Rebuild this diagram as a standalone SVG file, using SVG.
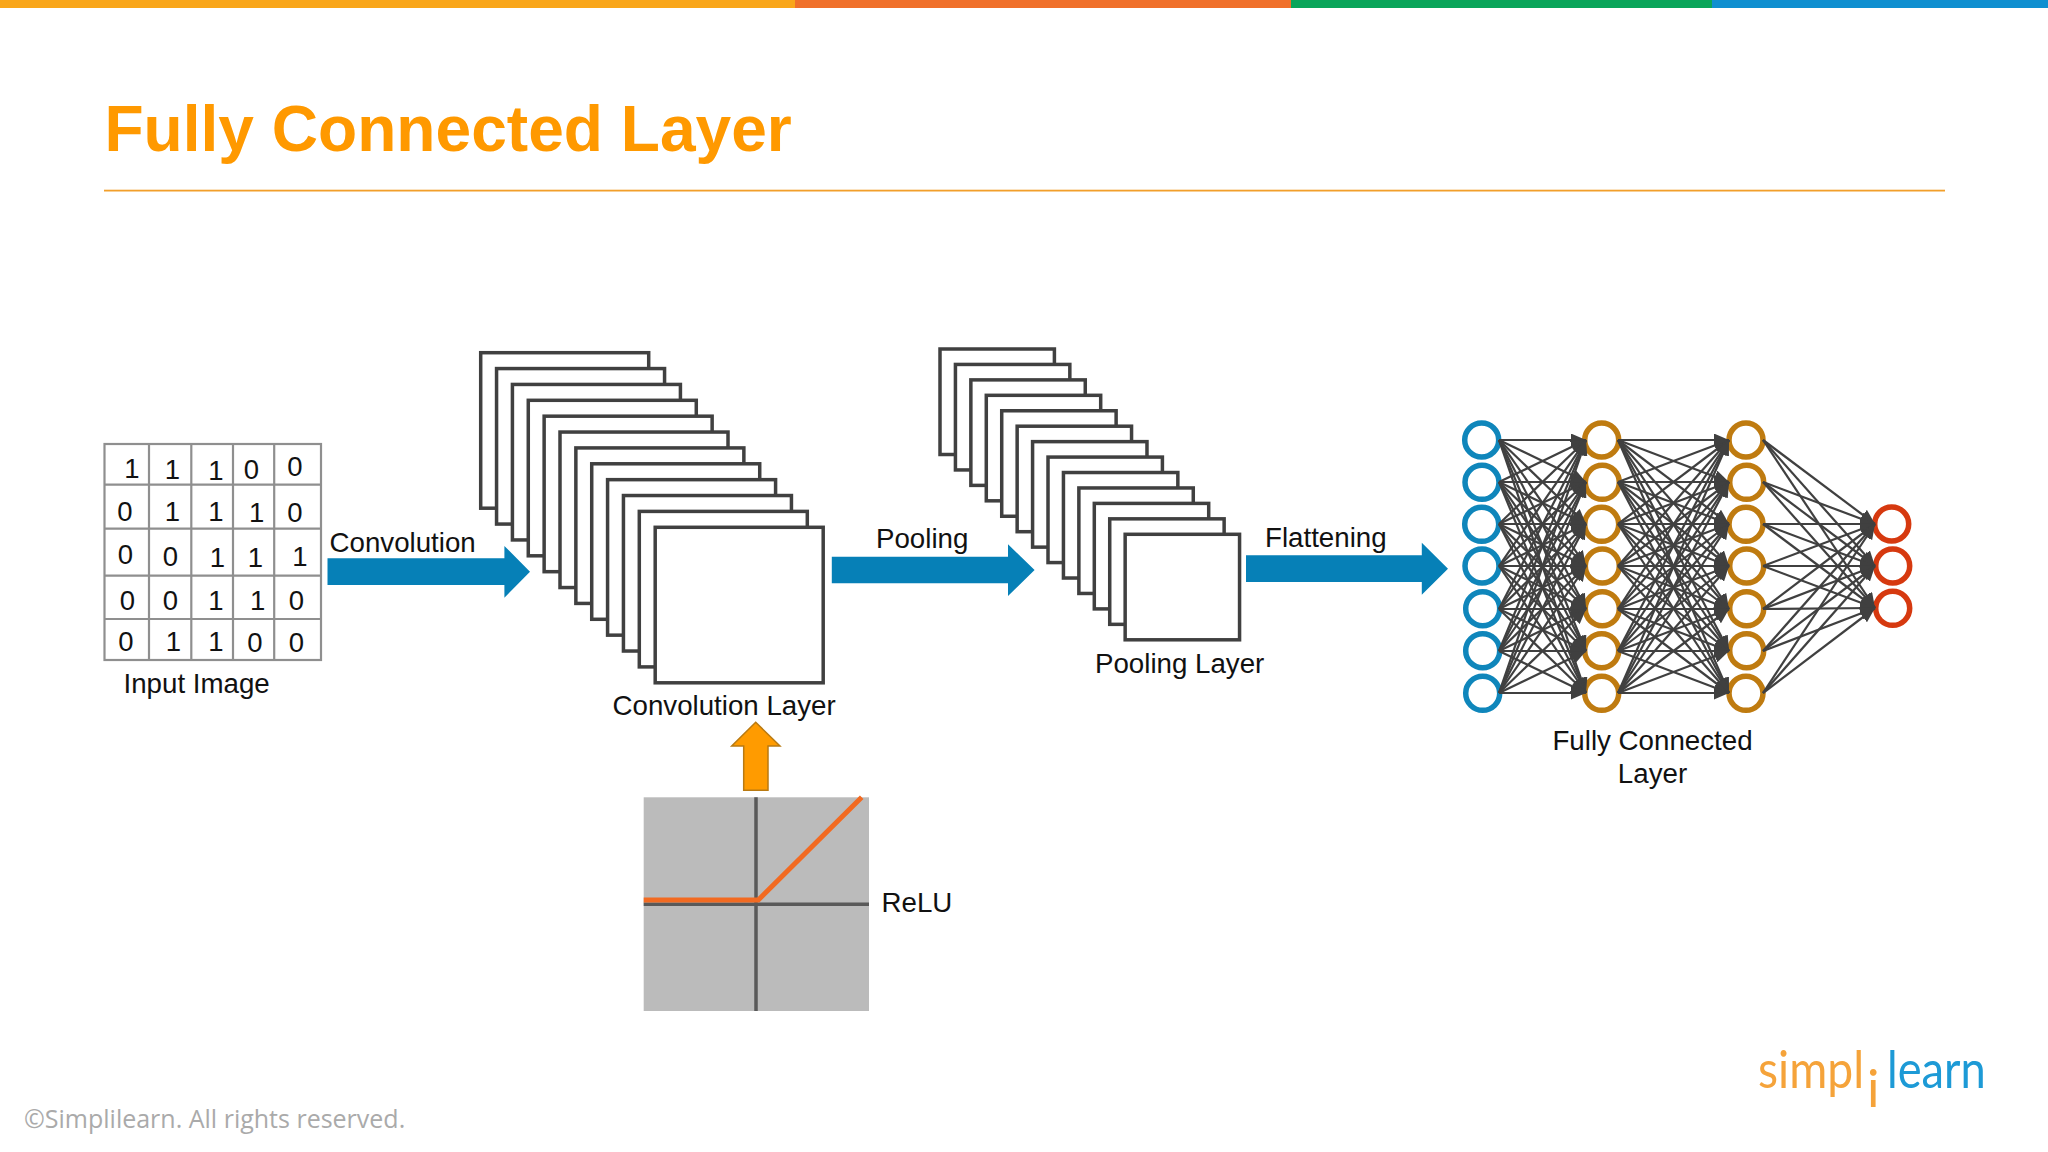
<svg xmlns="http://www.w3.org/2000/svg" width="2048" height="1152" viewBox="0 0 2048 1152">
<defs>
<style>
text{font-family:"Liberation Sans",Arial,sans-serif;fill:#111}
.l{font-size:27.7px}
.d{font-size:27.5px;text-anchor:middle}
.s{fill:#fff;stroke:#404040;stroke-width:3.5}
.a{fill:#0680b7}
.g{stroke:#8f8f8f;stroke-width:2.2;fill:none}
.e line{stroke:#404040;stroke-width:2.2;marker-end:url(#h)}
.n{fill:#fff;stroke-width:5.5}
.b{stroke:#0f86bb}.o{stroke:#bf7b10}.r{stroke:#d6390f}
.logo{font-family:Lato,"Open Sans",sans-serif;font-size:52px}
</style>
<marker id="h" markerUnits="userSpaceOnUse" markerWidth="15" markerHeight="13" refX="15" refY="6.5" orient="auto"><path d="M0,0L15,6.500L0,13z" fill="#404040"/></marker>
</defs>
<rect width="2048" height="1152" fill="#fff"/>
<rect x="0" y="0" width="795" height="8" fill="#f9a61a"/>
<rect x="795" y="0" width="496" height="8" fill="#f0702a"/>
<rect x="1291" y="0" width="421" height="8" fill="#0aa55a"/>
<rect x="1712" y="0" width="336" height="8" fill="#0f8fd0"/>
<text x="104.400" y="151" font-size="64.100" font-weight="700" style="fill:#ff9900">Fully Connected Layer</text>
<rect x="104" y="189.700" width="1841" height="1.800" fill="#f29f2b"/>
<g id="input-image">
<rect class="g" x="104.500" y="444" width="216.500" height="216"/>
<path class="g" d="M149 444V660M191.300 444V660M233 444V660M274.200 444V660M104.500 484.700H321M104.500 528.700H321M104.500 575.700H321M104.500 619H321"/>
<g class="d">
<text class="d" x="132" y="478">1</text><text class="d" x="172.400" y="479">1</text><text class="d" x="216" y="480">1</text><text class="d" x="251.400" y="479">0</text><text class="d" x="295" y="476">0</text>
<text class="d" x="125" y="520.700">0</text><text class="d" x="172.400" y="520.700">1</text><text class="d" x="216" y="520.700">1</text><text class="d" x="256.700" y="521.700">1</text><text class="d" x="295" y="522">0</text>
<text class="d" x="125.400" y="564">0</text><text class="d" x="170.500" y="566.400">0</text><text class="d" x="217.500" y="566.700">1</text><text class="d" x="255.300" y="566.700">1</text><text class="d" x="299.900" y="566">1</text>
<text class="d" x="127.300" y="610">0</text><text class="d" x="170.500" y="610">0</text><text class="d" x="216" y="610.400">1</text><text class="d" x="257.700" y="610">1</text><text class="d" x="296.500" y="610.400">0</text>
<text class="d" x="125.900" y="651">0</text><text class="d" x="173.400" y="651">1</text><text class="d" x="216" y="650.700">1</text><text class="d" x="254.800" y="652.400">0</text><text class="d" x="296.500" y="652.400">0</text>
</g>
<text class="l" x="123.500" y="692.700">Input Image</text>
</g>
<g id="conv-layer">
<rect class="s" x="480.700" y="352.700" width="168" height="155.500"/>
<rect class="s" x="496.560" y="368.570" width="168" height="155.500"/>
<rect class="s" x="512.420" y="384.440" width="168" height="155.500"/>
<rect class="s" x="528.280" y="400.310" width="168" height="155.500"/>
<rect class="s" x="544.140" y="416.180" width="168" height="155.500"/>
<rect class="s" x="560" y="432.050" width="168" height="155.500"/>
<rect class="s" x="575.860" y="447.920" width="168" height="155.500"/>
<rect class="s" x="591.720" y="463.790" width="168" height="155.500"/>
<rect class="s" x="607.580" y="479.660" width="168" height="155.500"/>
<rect class="s" x="623.440" y="495.530" width="168" height="155.500"/>
<rect class="s" x="639.300" y="511.400" width="168" height="155.500"/>
<rect class="s" x="655.200" y="527.300" width="168" height="155.500"/>
<text class="l" x="612.500" y="714.500">Convolution Layer</text>
</g>
<g id="pool-layer">
<rect class="s" x="940" y="349" width="114.400" height="105.500"/>
<rect class="s" x="955.430" y="364.440" width="114.400" height="105.500"/>
<rect class="s" x="970.860" y="379.880" width="114.400" height="105.500"/>
<rect class="s" x="986.290" y="395.320" width="114.400" height="105.500"/>
<rect class="s" x="1001.720" y="410.760" width="114.400" height="105.500"/>
<rect class="s" x="1017.150" y="426.200" width="114.400" height="105.500"/>
<rect class="s" x="1032.580" y="441.640" width="114.400" height="105.500"/>
<rect class="s" x="1048.010" y="457.080" width="114.400" height="105.500"/>
<rect class="s" x="1063.440" y="472.520" width="114.400" height="105.500"/>
<rect class="s" x="1078.870" y="487.960" width="114.400" height="105.500"/>
<rect class="s" x="1094.300" y="503.400" width="114.400" height="105.500"/>
<rect class="s" x="1109.730" y="518.840" width="114.400" height="105.500"/>
<rect class="s" x="1125.160" y="534.300" width="114.400" height="105.500"/>
<text class="l" x="1095" y="672.800">Pooling Layer</text>
</g>
<g id="relu">
<rect x="643.700" y="797.300" width="225.300" height="213.700" fill="#bbb"/>
<path d="M756 797.300V1011M643.700 904.300H869" stroke="#595959" stroke-width="3.500" fill="none"/>
<path d="M643.700 900H758.300L861.700 797.300" stroke="#f26a21" stroke-width="5" fill="none"/>
<text class="l" x="881.500" y="911.500">ReLU</text>
</g>
<g id="arrows">
<path class="a" d="M327.500 558.300H504.400V546L530 571.700L504.400 597.700V585H327.500z"/>
<path class="a" d="M831.800 556.700H1008V544.300L1034.600 570L1008 596V583.300H831.800z"/>
<path class="a" d="M1246 555.300H1421.800V542.700L1448 568.700L1421.800 594.700V582H1246z"/>
<path d="M755.700 722.300L780 746H768V790.300H743.700V746H731.700z" fill="#ff9b00" stroke="#b97a12" stroke-width="1.500"/>
<text class="l" x="329.500" y="551.700">Convolution</text>
<text class="l" x="876" y="548">Pooling</text>
<text class="l" x="1265" y="547">Flattening</text>
</g>
<g id="nodes">
<g id="a1"><circle class="n b" cx="1481.700" cy="440" r="17"/></g>
<g id="a2"><circle class="n b" cx="1482" cy="482.300" r="17"/></g>
<g id="a3"><circle class="n b" cx="1481.700" cy="524.300" r="17"/></g>
<g id="a4"><circle class="n b" cx="1482" cy="566" r="17"/></g>
<g id="a5"><circle class="n b" cx="1482.700" cy="608.700" r="17"/></g>
<g id="a6"><circle class="n b" cx="1482.700" cy="650.700" r="17"/></g>
<g id="a7"><circle class="n b" cx="1482.700" cy="693.300" r="17"/></g>
<g id="b1"><circle class="n o" cx="1601.700" cy="440" r="17"/></g>
<g id="b2"><circle class="n o" cx="1602.300" cy="482.300" r="17"/></g>
<g id="b3"><circle class="n o" cx="1601.700" cy="524.300" r="17"/></g>
<g id="b4"><circle class="n o" cx="1602.300" cy="566" r="17"/></g>
<g id="b5"><circle class="n o" cx="1602.300" cy="608.700" r="17"/></g>
<g id="b6"><circle class="n o" cx="1601.700" cy="650.700" r="17"/></g>
<g id="b7"><circle class="n o" cx="1601.700" cy="693.300" r="17"/></g>
<g id="c1"><circle class="n o" cx="1746" cy="440" r="17"/></g>
<g id="c2"><circle class="n o" cx="1746.700" cy="482.300" r="17"/></g>
<g id="c3"><circle class="n o" cx="1746" cy="524.300" r="17"/></g>
<g id="c4"><circle class="n o" cx="1746.700" cy="566" r="17"/></g>
<g id="c5"><circle class="n o" cx="1746.700" cy="608.700" r="17"/></g>
<g id="c6"><circle class="n o" cx="1746.700" cy="650.700" r="17"/></g>
<g id="c7"><circle class="n o" cx="1746" cy="693.300" r="17"/></g>
<g id="d1"><circle class="n r" cx="1891.700" cy="524" r="17"/></g>
<g id="d2"><circle class="n r" cx="1892.700" cy="566" r="17"/></g>
<g id="d3"><circle class="n r" cx="1892.700" cy="608.300" r="17"/></g>
<text class="l" x="1652.500" y="750" text-anchor="middle">Fully Connected</text>
<text class="l" x="1652.500" y="783" text-anchor="middle">Layer</text>
</g>
<g id="connectors" class="e">
<line x1="1499" y1="440" x2="1586" y2="440"/><line x1="1499" y1="440" x2="1586" y2="482"/><line x1="1499" y1="440" x2="1586" y2="524"/><line x1="1499" y1="440" x2="1586" y2="566"/><line x1="1499" y1="440" x2="1586" y2="609"/><line x1="1499" y1="440" x2="1586" y2="651"/><line x1="1499" y1="440" x2="1586" y2="693"/>
<line x1="1499" y1="482" x2="1586" y2="440"/><line x1="1499" y1="482" x2="1586" y2="482"/><line x1="1499" y1="482" x2="1586" y2="524"/><line x1="1499" y1="482" x2="1586" y2="566"/><line x1="1499" y1="482" x2="1586" y2="609"/><line x1="1499" y1="482" x2="1586" y2="651"/><line x1="1499" y1="482" x2="1586" y2="693"/>
<line x1="1499" y1="524" x2="1586" y2="440"/><line x1="1499" y1="524" x2="1586" y2="482"/><line x1="1499" y1="524" x2="1586" y2="524"/><line x1="1499" y1="524" x2="1586" y2="566"/><line x1="1499" y1="524" x2="1586" y2="609"/><line x1="1499" y1="524" x2="1586" y2="651"/><line x1="1499" y1="524" x2="1586" y2="693"/>
<line x1="1499" y1="566" x2="1586" y2="440"/><line x1="1499" y1="566" x2="1586" y2="482"/><line x1="1499" y1="566" x2="1586" y2="524"/><line x1="1499" y1="566" x2="1586" y2="566"/><line x1="1499" y1="566" x2="1586" y2="609"/><line x1="1499" y1="566" x2="1586" y2="651"/><line x1="1499" y1="566" x2="1586" y2="693"/>
<line x1="1499" y1="609" x2="1586" y2="440"/><line x1="1499" y1="609" x2="1586" y2="482"/><line x1="1499" y1="609" x2="1586" y2="524"/><line x1="1499" y1="609" x2="1586" y2="566"/><line x1="1499" y1="609" x2="1586" y2="609"/><line x1="1499" y1="609" x2="1586" y2="651"/><line x1="1499" y1="609" x2="1586" y2="693"/>
<line x1="1499" y1="651" x2="1586" y2="440"/><line x1="1499" y1="651" x2="1586" y2="482"/><line x1="1499" y1="651" x2="1586" y2="524"/><line x1="1499" y1="651" x2="1586" y2="566"/><line x1="1499" y1="651" x2="1586" y2="609"/><line x1="1499" y1="651" x2="1586" y2="651"/><line x1="1499" y1="651" x2="1586" y2="693"/>
<line x1="1499" y1="693" x2="1586" y2="440"/><line x1="1499" y1="693" x2="1586" y2="482"/><line x1="1499" y1="693" x2="1586" y2="524"/><line x1="1499" y1="693" x2="1586" y2="566"/><line x1="1499" y1="693" x2="1586" y2="609"/><line x1="1499" y1="693" x2="1586" y2="651"/><line x1="1499" y1="693" x2="1586" y2="693"/>
<line x1="1618" y1="440" x2="1729" y2="440"/><line x1="1618" y1="440" x2="1729" y2="482"/><line x1="1618" y1="440" x2="1729" y2="524"/><line x1="1618" y1="440" x2="1729" y2="566"/><line x1="1618" y1="440" x2="1729" y2="609"/><line x1="1618" y1="440" x2="1729" y2="651"/><line x1="1618" y1="440" x2="1729" y2="693"/>
<line x1="1618" y1="482" x2="1729" y2="440"/><line x1="1618" y1="482" x2="1729" y2="482"/><line x1="1618" y1="482" x2="1729" y2="524"/><line x1="1618" y1="482" x2="1729" y2="566"/><line x1="1618" y1="482" x2="1729" y2="609"/><line x1="1618" y1="482" x2="1729" y2="651"/><line x1="1618" y1="482" x2="1729" y2="693"/>
<line x1="1618" y1="524" x2="1729" y2="440"/><line x1="1618" y1="524" x2="1729" y2="482"/><line x1="1618" y1="524" x2="1729" y2="524"/><line x1="1618" y1="524" x2="1729" y2="566"/><line x1="1618" y1="524" x2="1729" y2="609"/><line x1="1618" y1="524" x2="1729" y2="651"/><line x1="1618" y1="524" x2="1729" y2="693"/>
<line x1="1618" y1="566" x2="1729" y2="440"/><line x1="1618" y1="566" x2="1729" y2="482"/><line x1="1618" y1="566" x2="1729" y2="524"/><line x1="1618" y1="566" x2="1729" y2="566"/><line x1="1618" y1="566" x2="1729" y2="609"/><line x1="1618" y1="566" x2="1729" y2="651"/><line x1="1618" y1="566" x2="1729" y2="693"/>
<line x1="1618" y1="609" x2="1729" y2="440"/><line x1="1618" y1="609" x2="1729" y2="482"/><line x1="1618" y1="609" x2="1729" y2="524"/><line x1="1618" y1="609" x2="1729" y2="566"/><line x1="1618" y1="609" x2="1729" y2="609"/><line x1="1618" y1="609" x2="1729" y2="651"/><line x1="1618" y1="609" x2="1729" y2="693"/>
<line x1="1618" y1="651" x2="1729" y2="440"/><line x1="1618" y1="651" x2="1729" y2="482"/><line x1="1618" y1="651" x2="1729" y2="524"/><line x1="1618" y1="651" x2="1729" y2="566"/><line x1="1618" y1="651" x2="1729" y2="609"/><line x1="1618" y1="651" x2="1729" y2="651"/><line x1="1618" y1="651" x2="1729" y2="693"/>
<line x1="1618" y1="693" x2="1729" y2="440"/><line x1="1618" y1="693" x2="1729" y2="482"/><line x1="1618" y1="693" x2="1729" y2="524"/><line x1="1618" y1="693" x2="1729" y2="566"/><line x1="1618" y1="693" x2="1729" y2="609"/><line x1="1618" y1="693" x2="1729" y2="651"/><line x1="1618" y1="693" x2="1729" y2="693"/>
<line x1="1763" y1="440" x2="1875" y2="524"/><line x1="1763" y1="440" x2="1875" y2="566"/><line x1="1763" y1="440" x2="1875" y2="608"/>
<line x1="1763" y1="482" x2="1875" y2="524"/><line x1="1763" y1="482" x2="1875" y2="566"/><line x1="1763" y1="482" x2="1875" y2="608"/>
<line x1="1763" y1="524" x2="1875" y2="524"/><line x1="1763" y1="524" x2="1875" y2="566"/><line x1="1763" y1="524" x2="1875" y2="608"/>
<line x1="1763" y1="566" x2="1875" y2="524"/><line x1="1763" y1="566" x2="1875" y2="566"/><line x1="1763" y1="566" x2="1875" y2="608"/>
<line x1="1763" y1="609" x2="1875" y2="524"/><line x1="1763" y1="609" x2="1875" y2="566"/><line x1="1763" y1="609" x2="1875" y2="608"/>
<line x1="1763" y1="651" x2="1875" y2="524"/><line x1="1763" y1="651" x2="1875" y2="566"/><line x1="1763" y1="651" x2="1875" y2="608"/>
<line x1="1763" y1="693" x2="1875" y2="524"/><line x1="1763" y1="693" x2="1875" y2="566"/><line x1="1763" y1="693" x2="1875" y2="608"/>
</g>
<g id="logo">
<text class="logo" transform="translate(1758 1088) scale(.89 1)" style="fill:#f5a33a">simpl</text>
<text class="logo" x="1867" y="1107" style="fill:#f5a33a">i</text>
<text class="logo" transform="translate(1887 1088) scale(.87 1)" style="fill:#1d9ad6">learn</text>
</g>
<text x="24" y="1127.500" font-size="25" style="font-family:'Open Sans',sans-serif;fill:#aaa">©Simplilearn. All rights reserved.</text>
</svg>
